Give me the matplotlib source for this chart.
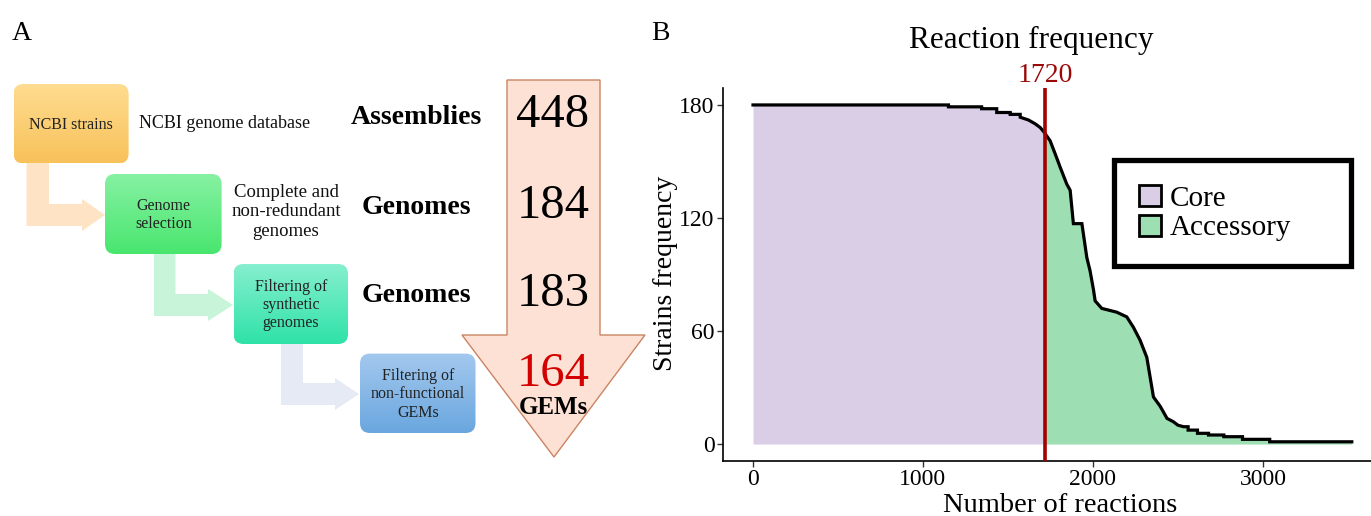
import numpy as np
import matplotlib
matplotlib.use("Agg")
import matplotlib.pyplot as plt
from matplotlib.patches import FancyBboxPatch, Polygon, Patch
from matplotlib.transforms import blended_transform_factory

plt.rcParams['font.family'] = ['Liberation Serif', 'DejaVu Serif']

W, H = 1371, 516

# panel B data: traced points of the sorted reaction frequency curve
reaction_idx = [0, 1150, 1150, 1345, 1345, 1434, 1434, 1513, 1513, 1572, 1572,
                1621, 1660, 1690, 1713, 1748, 1778, 1807, 1846, 1866, 1885, 1935,
                1964, 1983, 2003, 2013, 2052, 2140, 2199, 2238, 2278, 2317, 2356,
                2396, 2436, 2474, 2500, 2533, 2560, 2560, 2615, 2615, 2680, 2680,
                2770, 2770, 2880, 2880, 3040, 3040, 3523]
strain_freq = [180, 180, 179, 179, 178, 178, 176, 176, 175, 175, 173.5,
               172, 170, 168, 165.5, 161, 154, 147, 138, 134.7, 117, 117,
               99, 92, 82, 76, 72, 70, 67.5, 62, 55, 46, 25,
               20, 13.6, 11.8, 10, 9.2, 9.2, 7.4, 7.4, 5.7, 5.7, 4.8,
               4.8, 3.9, 3.9, 2.5, 2.5, 1.2, 1.2]
core_cut = 1720
x_ticks = [0, 1000, 2000, 3000]
y_ticks = [0, 60, 120, 180]
group_labels = ["Core", "Accessory"]
group_colors = ["#DACDE6", "#9DDFB2"]

# panel A data
stage_counts = ["448", "184", "183", "164"]
stage_units = ["Assemblies", "Genomes", "Genomes", "GEMs"]
step_names = ["NCBI strains", "Genome\nselection", "Filtering of\nsynthetic\ngenomes",
              "Filtering of\nnon-functional\nGEMs"]
step_notes = ["NCBI genome database", "Complete and\nnon-redundant\ngenomes"]


def fx(px):
    return px / W


def fy(py):
    return 1 - py / H


fig = plt.figure(figsize=(W / 100, H / 100), dpi=100)

# ---------------- panel A: flowchart in pixel coordinates ----------------
axA = fig.add_axes([0, 0, 1, 1])
axA.set_xlim(0, W)
axA.set_ylim(H, 0)
axA.axis('off')


def grad_box(x0, y0, x1, y1, top, bottom):
    box = FancyBboxPatch((x0, y0), x1 - x0, y1 - y0,
                         boxstyle="round,pad=0,rounding_size=10",
                         facecolor='none', edgecolor='none', zorder=3)
    axA.add_patch(box)
    c0 = np.array(matplotlib.colors.to_rgb(top))
    c1 = np.array(matplotlib.colors.to_rgb(bottom))
    t = np.linspace(0, 1, 64)[:, None, None]
    img = c0 * (1 - t) + c1 * t
    im = axA.imshow(img, extent=(x0, x1, y1, y0), origin='upper',
                    aspect='auto', zorder=2, interpolation='bilinear')
    im.set_clip_path(box)


def l_arrow(sx0, sx1, ytop, band_top, band_bot, head_x, head_top, head_bot, tip_x, color):
    mid = (band_top + band_bot) / 2
    pts = [(sx0, ytop), (sx1, ytop), (sx1, band_top), (head_x, band_top),
           (head_x, head_top), (tip_x, mid), (head_x, head_bot),
           (head_x, band_bot), (sx0, band_bot)]
    axA.add_patch(Polygon(pts, closed=True, facecolor=color, edgecolor='none', zorder=1))


l_arrow(26.5, 49, 163, 204, 226, 82, 199, 231, 105, "#FEE4C4")
l_arrow(154, 175.5, 254, 294, 316, 208, 289, 321, 233, "#C8F5D9")
l_arrow(281, 303, 344, 383, 405, 335, 378, 410, 359, "#E5EAF5")

boxes = [(13.5, 84, 128.6, 163.5, "#FFDC91", "#F7C25A"),
         (105, 174, 221.6, 254, "#86F1A2", "#49E66F"),
         (233.5, 264, 348, 344, "#86EFCE", "#2FE2A8"),
         (360, 353.6, 475.5, 433, "#A3C8EE", "#6AA7DF")]
for (x0, y0, x1, y1, c_top, c_bot), name in zip(boxes, step_names):
    grad_box(x0, y0, x1, y1, c_top, c_bot)
    axA.text((x0 + x1) / 2, (y0 + y1) / 2 + 1, name, ha='center', va='center',
             fontsize=11.5, color='#222222', linespacing=1.2, zorder=4)

axA.text(139, 123, step_notes[0], ha='left', va='center', fontsize=13, color='#111111')
axA.text(286, 212, step_notes[1], ha='center', va='center', fontsize=13.5,
         color='#111111', linespacing=1.2)

# big down arrow
big = [(507, 80), (600, 80), (600, 335), (645, 335), (554, 457), (462, 335), (507, 335)]
axA.add_patch(Polygon(big, closed=True, facecolor="#FCE1D4", edgecolor="#C98463",
                      linewidth=1.0, zorder=1))

count_y = [115, 206, 294, 374]
for i, (cnt, unit, yy) in enumerate(zip(stage_counts, stage_units, count_y)):
    col = '#D40000' if i == 3 else 'black'
    axA.text(553, yy, cnt, ha='center', va='center', fontsize=35, color=col, zorder=5)
    if i < 3:
        axA.text(416, yy + 2, unit, ha='center', va='center', fontsize=20,
                 fontweight='bold', color='black')
    else:
        axA.text(553, 407, unit, ha='center', va='center', fontsize=18,
                 fontweight='bold', color='black', zorder=5)

fig.text(fx(22), fy(33), "A", ha='center', va='center', fontsize=20)
fig.text(fx(660), fy(33), "B", ha='center', va='center', fontsize=20)

# ---------------- panel B: reaction frequency ----------------
ax = fig.add_axes([fx(723), fy(461), fx(W - 723), (461 - 88) / H])
xs = np.array(reaction_idx, dtype=float)
ys = np.array(strain_freq, dtype=float)
cut_y = np.interp(core_cut, xs, ys)

core_x = np.append(xs[xs < core_cut], core_cut)
core_y = np.append(ys[xs < core_cut], cut_y)
acc_x = np.insert(xs[xs > core_cut], 0, core_cut)
acc_y = np.insert(ys[xs > core_cut], 0, cut_y)

ax.fill_between(core_x, 0, core_y, color=group_colors[0], linewidth=0, zorder=1)
ax.fill_between(acc_x, 0, acc_y, color=group_colors[1], linewidth=0, zorder=1)
ax.plot(xs, ys, color='black', linewidth=2.3, solid_joinstyle='miter', zorder=3)
ax.axvline(core_cut, color='#A30000', linewidth=2.6, zorder=4)

trans = blended_transform_factory(ax.transData, ax.transAxes)
ax.text(core_cut, 1.0, str(core_cut), transform=trans, ha='center', va='bottom',
        fontsize=20, color='#9B0A0A')

ax.set_xlim(-176.5, 3636)
ax.set_ylim(-9, 189)
ax.set_xticks(x_ticks)
ax.set_yticks(y_ticks)
ax.tick_params(axis='both', labelsize=17, length=4, width=1, color='#333333',
               labelcolor='black')
ax.tick_params(axis='x', pad=1.5)
ax.tick_params(axis='y', pad=2)
for side in ['top', 'right']:
    ax.spines[side].set_visible(False)
for side in ['left', 'bottom']:
    ax.spines[side].set_linewidth(1.2)
ax.set_facecolor('white')

fig.text(fx(1031), fy(40), "Reaction frequency", ha='center', va='center', fontsize=22.5)
fig.text(fx(1060), fy(512), "Number of reactions", ha='center', va='baseline', fontsize=20.5)
fig.text(fx(666), fy(273), "Strains frequency", ha='center', va='center',
         rotation=90, fontsize=20)

handles = [Patch(facecolor=c, edgecolor='black', linewidth=2) for c in group_colors]
leg = ax.legend(handles, group_labels, loc='upper left',
                bbox_to_anchor=(fx(1114), fy(160), fx(1351 - 1114), 0.0),
                bbox_transform=fig.transFigure, mode='expand', fontsize=21,
                frameon=True, fancybox=False, framealpha=1,
                handlelength=0.75, handleheight=0.75,
                handletextpad=0.3, labelspacing=0.1, borderpad=0.85,
                borderaxespad=0)
leg.get_frame().set_edgecolor('black')
leg.get_frame().set_linewidth(3.8)

fig.savefig("out.png", dpi=100)
